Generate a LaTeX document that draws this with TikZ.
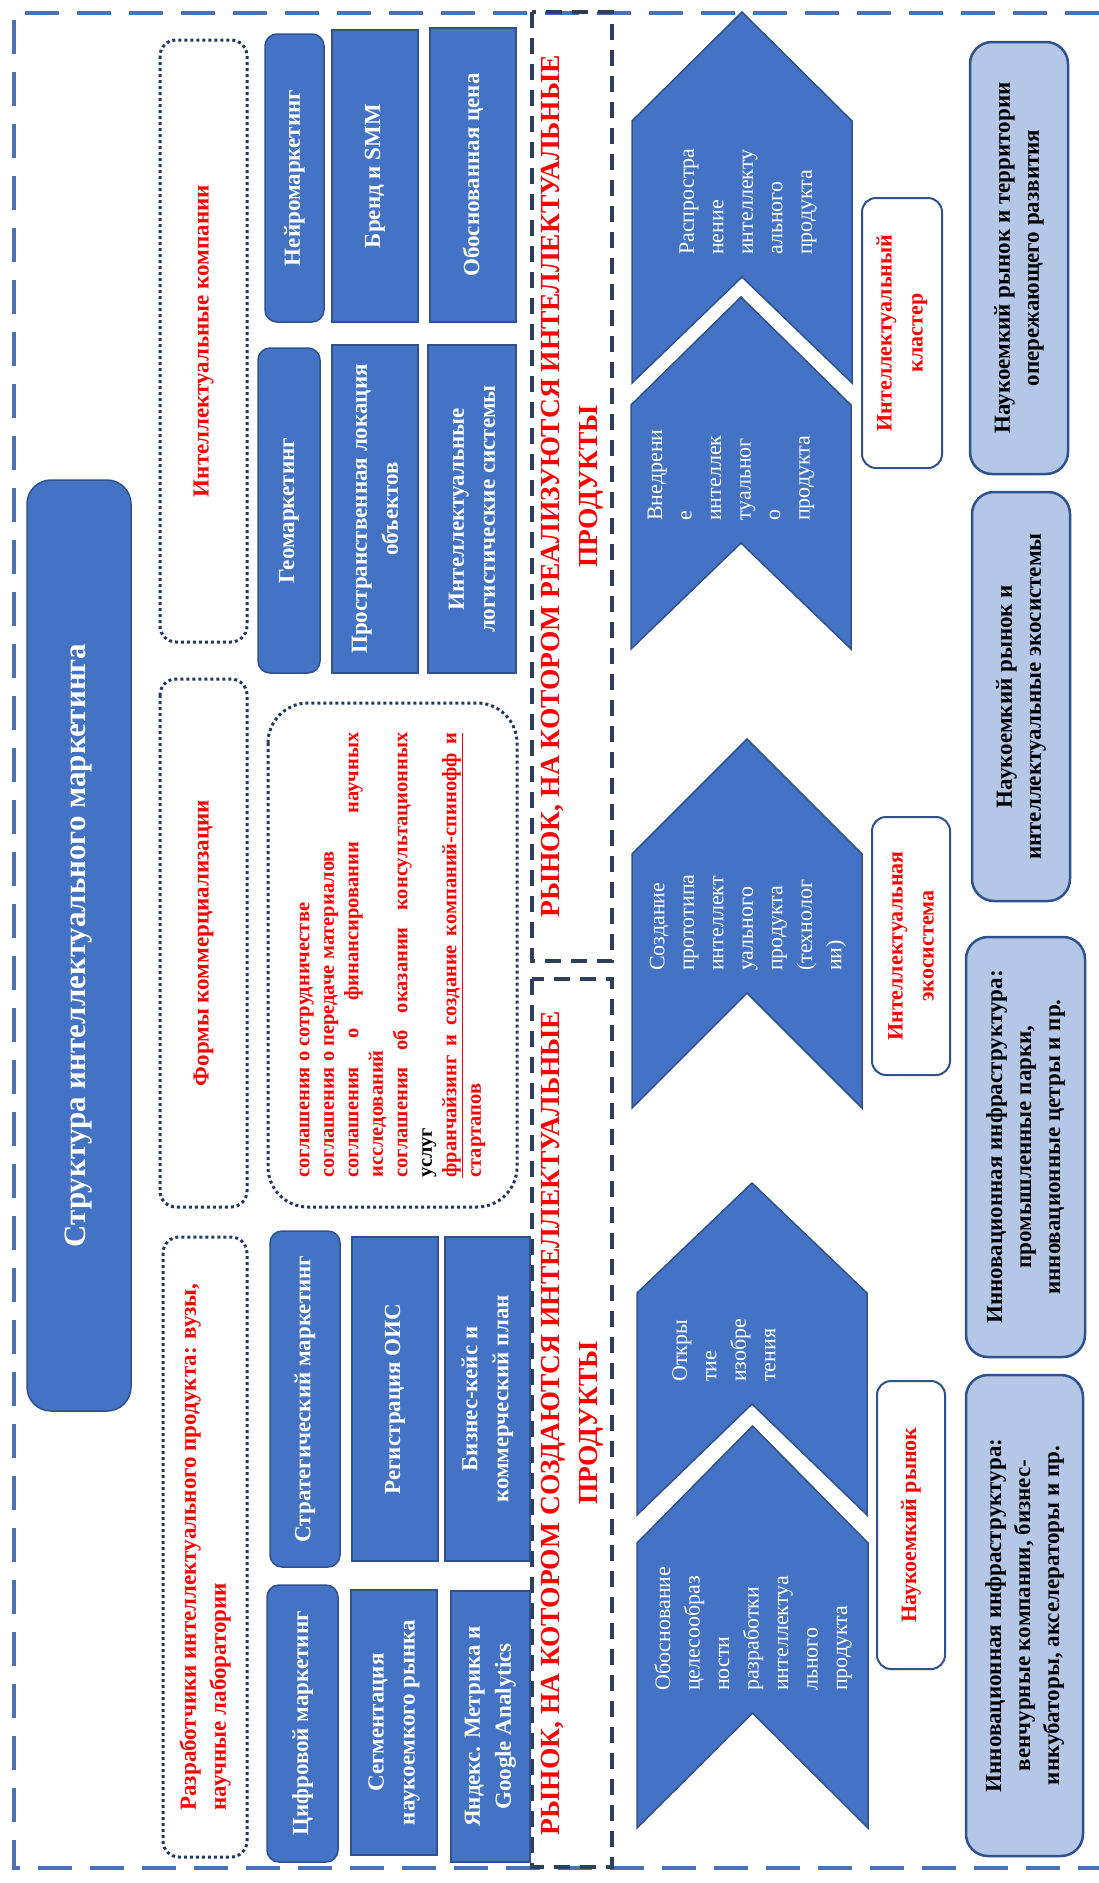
\documentclass[tikz,border=0pt]{standalone}
\usepackage{fontspec}
\setmainfont{Liberation Serif}
\definecolor{bfill}{HTML}{4472C4}
\definecolor{bdr}{HTML}{2F528F}
\definecolor{lfill}{HTML}{B4C7E7}
\definecolor{navy}{HTML}{203864}
\definecolor{slate}{HTML}{2E3F5C}
\definecolor{rd}{HTML}{FF0000}
\definecolor{framec}{HTML}{4A72B8}

% box given by its left/top and right/bottom corners (px, py with py downwards)
\newcommand\boxat[7]{\node[#1, minimum width={(#6-#4)*1pt}, minimum height={(#5-#3)*1pt}] (#2) at ({(#3+#5)/2},{(#4+#6)/2}) {#7};}
% chevron: left, right, tip, shoulder, bottom, notch
\newcommand\chevshape[6]{\draw[chev] (#1,#5) -- (#1,#4) -- ({(#1+#2)/2},#3) -- (#2,#4) -- (#2,#5) -- ({(#1+#2)/2},#6) -- cycle;}

\tikzset{
  base/.style={rotate=90, align=center, inner sep=3pt, outer sep=0pt},
  blu/.style={base, draw=bdr, line width=1.5pt, fill=bfill, text=white,
    font=\bfseries\fontsize{23}{31}\selectfont},
  blur/.style={blu, rounded corners=12pt},
  structbox/.style={blu, rounded corners=24pt, font=\bfseries\fontsize{31}{36}\selectfont},
  dotb/.style={base, draw=navy, line width=3pt, dash pattern=on 3pt off 3pt,
    rounded corners=16pt, text=rd, font=\bfseries\fontsize{23}{30}\selectfont},
  listb/.style={dotb, rounded corners=40pt, align=left,
    font=\bfseries\fontsize{20.5}{24.5}\selectfont},
  ttl/.style={base, draw=slate, line width=3.5pt, dash pattern=on 16pt off 10pt,
    text=rd, font=\bfseries\fontsize{27.5}{38}\selectfont},
  lbl/.style={base, draw=bdr, line width=2pt, fill=white, rounded corners=14pt,
    text=rd, font=\bfseries\fontsize{22}{31}\selectfont},
  lite/.style={base, draw=bdr, line width=2.5pt, fill=lfill, rounded corners=22pt,
    text=black, font=\bfseries\fontsize{23}{29}\selectfont},
  chev/.style={draw=bdr, line width=1.5pt, fill=bfill},
  chevtxt/.style={rotate=90, align=left, inner sep=0pt, anchor=west, text=white,
    font=\fontsize{22}{29.5}\selectfont},
  outer/.style={draw=framec, line width=4.5pt, dash pattern=on 34pt off 18pt}
}

\begin{document}
\begin{tikzpicture}[x=1pt, y=-1pt]
\fill[white] (0,0) rectangle (1099,1883);
\useasboundingbox (0,0) rectangle (1099,1883);

% outer frame
\draw[outer] (1099,13) -- (14,13) -- (14,1868) -- (1099,1868);

% market titles
\boxat{ttl}{mk2}{532}{12}{612}{961}{РЫНОК, НА КОТОРОМ РЕАЛИЗУЮТСЯ ИНТЕЛЛЕКТУАЛЬНЫЕ\\ПРОДУКТЫ}
\boxat{ttl}{mk1}{532}{979}{612}{1867}{РЫНОК, НА КОТОРОМ СОЗДАЮТСЯ ИНТЕЛЛЕКТУАЛЬНЫЕ\\ПРОДУКТЫ}

% structure header
\boxat{structbox}{struct}{27}{480}{131}{1411}{Структура интеллектуального маркетинга}

% dotted group headers
\boxat{dotb}{comp}{160}{40}{247}{642}{Интеллектуальные компании}
\boxat{dotb}{forms}{160}{679}{247}{1207}{Формы коммерциализации}
\boxat{dotb,align=left}{devs}{163}{1237}{247}{1857}{Разработчики интеллектуального продукта: вузы,\\научные лаборатории}

% companies
\boxat{blur}{neuro}{265}{34}{324}{322}{Нейромаркетинг}
\boxat{blu}{brand}{332}{30}{418}{322}{Бренд и SMM}
\boxat{blu}{price}{430}{28}{516}{322}{Обоснованная цена}
\boxat{blur}{geo}{258}{348}{320}{673}{Геомаркетинг}
\boxat{blu}{space}{332}{345}{418}{673}{Пространственная локация\\объектов}
\boxat{blu}{logist}{428}{345}{516}{673}{Интеллектуальные\\логистические системы}

% forms of commercialisation
\boxat{listb}{agree}{268}{703}{517}{1207}{%
соглашения о сотрудничестве\\
соглашения о передаче материалов\\
\makebox[445pt][s]{соглашения о финансировании научных}\\
исследований\\
\makebox[445pt][s]{соглашения об оказании консультационных}\\
\textcolor{black}{услуг}\\
\underline{\makebox[445pt][s]{франчайзинг и создание компаний-спинофф и}}\\
стартапов}

% developers
\boxat{blur}{strat}{270}{1231}{340}{1567}{Стратегический маркетинг}
\boxat{blu}{reg}{352}{1237}{438}{1561}{Регистрация ОИС}
\boxat{blu}{biz}{445}{1237}{530}{1561}{Бизнес-кейс и\\коммерческий план}
\boxat{blur}{digit}{267}{1585}{338}{1862}{Цифровой маркетинг}
\boxat{blu}{segm}{351}{1590}{437}{1855}{Сегментация\\наукоемкого рынка}
\boxat{blu}{yandex}{451}{1591}{530}{1862}{Яндекс. Метрика и\\Google Analytics}

% product life chain
\chevshape{632}{852}{12}{121}{383}{277}
\chevshape{631}{851}{297}{405}{649}{543}
\chevshape{632}{862}{739}{854}{1108}{993}
\chevshape{637}{867}{1183}{1293}{1515}{1404}
\chevshape{637}{868}{1426}{1543}{1828}{1713}

\node[chevtxt] (c1) at (748,255) {Распростра\\нение\\интеллекту\\ального\\продукта};
\node[chevtxt] (c2) at (731,521) {Внедрени\\е\\интеллек\\туальног\\о\\продукта};
\node[chevtxt] (c3) at (748,971) {Создание\\прототипа\\интеллект\\уального\\продукта\\(технолог\\ии)};
\node[chevtxt] (c4) at (724,1382) {Откры\\тие\\изобре\\тения};
\node[chevtxt] (c5) at (753,1691) {Обоснование\\целесообраз\\ности\\разработки\\интеллектуа\\льного\\продукта};

% market levels
\boxat{lbl}{clus}{862}{198}{942}{468}{Интеллектуальный\\кластер}
\boxat{lbl}{eco}{872}{817}{950}{1075}{Интеллектуальная\\экосистема}
\boxat{lbl}{mkt}{877}{1381}{945}{1669}{Наукоемкий рынок}

% infrastructure
\boxat{lite}{ter}{970}{42}{1068}{474}{Наукоемкий рынок и территории\\опережающего развития}
\boxat{lite}{ecs}{972}{492}{1070}{901}{Наукоемкий рынок и\\интеллектуальные экосистемы}
\boxat{lite}{parks}{966}{937}{1085}{1357}{Инновационная инфраструктура:\\промышленные парки,\\инновационные цетры и пр.}
\boxat{lite}{vent}{966}{1375}{1083}{1856}{Инновационная инфраструктура:\\венчурные компании, бизнес-\\инкубаторы, акселераторы и пр.}
\end{tikzpicture}
\end{document}
